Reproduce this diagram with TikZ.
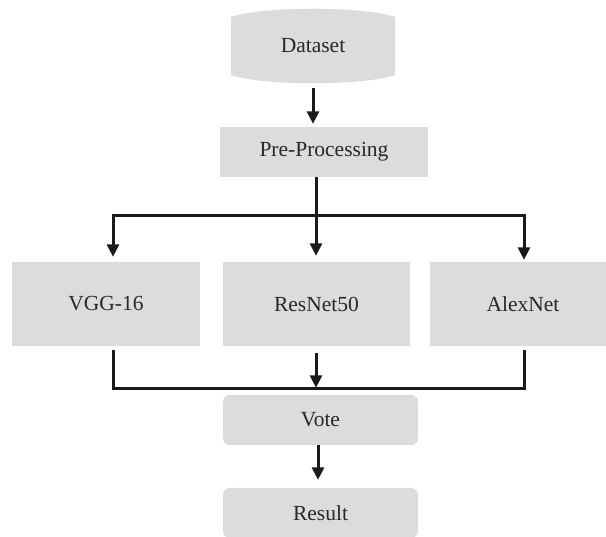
\documentclass[tikz,border=0pt]{standalone}
\usepackage{fontspec}
\setmainfont{Liberation Serif}
\usetikzlibrary{arrows.meta}
\definecolor{boxgray}{RGB}{220,220,220}
\definecolor{linegray}{RGB}{26,26,26}
\definecolor{txtgray}{RGB}{40,40,40}
\tikzset{
  box/.style={rectangle, fill=boxgray, draw=none, text=txtgray, font=\fontsize{21.5}{24}\selectfont, inner sep=0pt},
  rbox/.style={box, rounded corners=7pt},
  conn/.style={draw=linegray, line width=3pt},
  arr/.style={conn, -{Triangle[length=12.5pt,width=12pt]}},
}
\begin{document}
\begin{tikzpicture}[x=1pt,y=-1pt]
\clip (0,0) rectangle (606,537);
\fill[white] (0,0) rectangle (606,537);
% Dataset drum shape
\fill[boxgray] (231,17) .. controls (262,6) and (364,6) .. (395,17) -- (395,75) .. controls (364,86) and (262,86) .. (231,75) -- cycle;
\node[box, fill=none, minimum width=164pt, minimum height=73pt] (ds) at (313,46) {Dataset};
\node[box, minimum width=208pt, minimum height=50pt] (pp) at (324,152) {Pre-Processing};
\node[box, minimum width=188pt, minimum height=84pt] (vgg) at (106,304) {VGG-16};
\node[box, minimum width=187pt, minimum height=84pt] (res) at (316.5,304) {ResNet50};
\node[box, minimum width=186pt, minimum height=84pt] (alex) at (523,304) {AlexNet};
\node[rbox, minimum width=195pt, minimum height=50pt] (vote) at (320.5,420) {Vote};
\node[rbox, minimum width=195pt, minimum height=50pt] (res2) at (320.5,513) {Result};
% connectors
\coordinate (br) at (316,216);
\coordinate (cl) at (113,216);
\coordinate (cr) at (524,216);
\coordinate (bl) at (113,389);
\coordinate (bry) at (524,389);
\draw[arr, shorten <=5pt, shorten >=3pt] (ds.south) -- (ds.south |- pp.north);
\draw[conn] (pp.south -| br) -- (br);
\draw[conn, line cap=rect] (cl) -- (cr);
\draw[arr, shorten >=5pt] (cl) -- (cl |- vgg.north);
\draw[arr, shorten >=6pt] (br) -- (br |- res.north);
\draw[arr, shorten >=2pt] (cr) -- (cr |- alex.north);
\draw[conn, line join=miter, shorten <=4pt, shorten >=4pt] (vgg.south -| bl) -- (bl) -- (bry) -- (alex.south -| bry);
\draw[arr, shorten <=7pt, shorten >=7pt] (res.south -| br) -- (vote.north -| br);
\draw[arr, shorten >=8pt] (vote.south -| 318,0) -- (res2.north -| 318,0);
\end{tikzpicture}
\end{document}
